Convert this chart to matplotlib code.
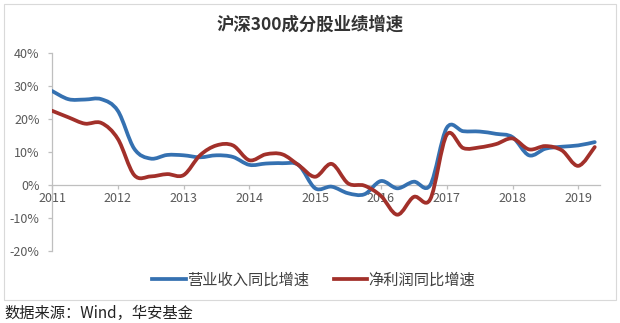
import matplotlib
matplotlib.use("Agg")
import matplotlib.pyplot as plt
from matplotlib.path import Path
from matplotlib.patches import PathPatch, Rectangle
from matplotlib.lines import Line2D
from matplotlib.ticker import FuncFormatter

plt.rcParams['font.family'] = ['Noto Sans CJK SC', 'DejaVu Sans']

# ---------------------------------------------------------------
# datos (trimestrales, % interanual)
# ---------------------------------------------------------------
quarters = [2011 + i * 0.25 for i in range(34)]

revenue = [28.5, 26.0, 25.9, 26.0, 22.5, 11.0, 8.0, 9.1,
           9.0, 8.4, 9.0, 8.5, 6.1, 6.5, 6.6, 6.0,
           -1.0, -0.5, -2.5, -2.8, 1.2, -1.0, 1.0, 0.0,
           17.3, 16.3, 16.2, 15.5, 14.5, 9.0, 11.0, 11.6,
           12.0, 13.0]

profit = [22.5, 20.5, 18.6, 18.8, 14.0, 3.0, 2.6, 3.3,
          3.0, 9.0, 12.0, 12.0, 7.5, 9.3, 9.3, 6.0,
          2.5, 6.4, 0.5, -0.2, -3.3, -9.0, -3.6, -4.3,
          15.2, 11.2, 11.4, 12.4, 14.1, 10.8, 11.8, 10.5,
          5.8, 11.5]

years = list(range(2011, 2020))
yticks = [-20, -10, 0, 10, 20, 30, 40]

title = "沪深300成分股业绩增速"
label_rev = "营业收入同比增速"
label_pro = "净利润同比增速"
source = "数据来源：Wind，华安基金"

blue = "#3571B1"
red = "#A2302A"


def smooth_path(xs, ys):
    # curva suavizada tipo Excel (Bezier con los puntos de datos)
    verts = [(xs[0], ys[0])]
    codes = [Path.MOVETO]
    n = len(xs)
    for i in range(n - 1):
        x0, y0 = xs[max(i - 1, 0)], ys[max(i - 1, 0)]
        x1, y1 = xs[i], ys[i]
        x2, y2 = xs[i + 1], ys[i + 1]
        x3, y3 = xs[min(i + 2, n - 1)], ys[min(i + 2, n - 1)]
        c1 = (x1 + (x2 - x0) / 6, y1 + (y2 - y0) / 6)
        c2 = (x2 - (x3 - x1) / 6, y2 - (y3 - y1) / 6)
        verts += [c1, c2, (x2, y2)]
        codes += [Path.CURVE4] * 3
    return Path(verts, codes)


fig = plt.figure(figsize=(6.2, 3.23), dpi=100)

# marco exterior
fig.patches.append(Rectangle((4 / 620, 1 - 300 / 323), 612 / 620, 296 / 323,
                             transform=fig.transFigure, fill=False,
                             edgecolor="#D9D9D9", linewidth=0.8))

ax = fig.add_axes([52 / 620, 1 - 251 / 323, 548 / 620, 198 / 323])

ax.add_patch(PathPatch(smooth_path(quarters, revenue), fill=False,
                       edgecolor=blue, linewidth=2.7, capstyle="round",
                       joinstyle="round", zorder=3))
ax.add_patch(PathPatch(smooth_path(quarters, profit), fill=False,
                       edgecolor=red, linewidth=2.7, capstyle="round",
                       joinstyle="round", zorder=4))

ax.set_xlim(2011, 2019.33)
ax.set_ylim(-20, 40)

ax.set_xticks(years)
ax.set_xticklabels([str(y) for y in years])
ax.set_yticks(yticks)
ax.yaxis.set_major_formatter(FuncFormatter(lambda v, p: f"{int(v)}%"))

for s in ["top", "right"]:
    ax.spines[s].set_visible(False)
ax.spines["bottom"].set_position(("data", 0))
ax.spines["bottom"].set_color("#BFBFBF")
ax.spines["left"].set_color("#BFBFBF")
ax.spines["bottom"].set_linewidth(0.9)
ax.spines["left"].set_linewidth(0.9)

ax.tick_params(axis="both", colors="#BFBFBF", labelcolor="#595959",
               labelsize=9, length=3, width=0.9, direction="out")
ax.tick_params(axis="x", pad=2)
ax.tick_params(axis="y", pad=6)

fig.text(0.5, 1 - 25 / 323, title, ha="center", va="center",
         fontsize=12.5, fontweight="bold", color="#333333")

handles = [Line2D([], [], color=blue, linewidth=2.7),
           Line2D([], [], color=red, linewidth=2.7)]
fig.legend(handles, [label_rev, label_pro], loc="center",
           bbox_to_anchor=(0.506, 1 - 280 / 323), ncol=2, frameon=False,
           fontsize=11, handlelength=2.2, handletextpad=0.1,
           columnspacing=1.6, labelcolor="#404040")

fig.text(4 / 620, 1 - 313 / 323, source, ha="left", va="center",
         fontsize=11, color="#222222", style="italic")

fig.savefig("out.png", dpi=100)
